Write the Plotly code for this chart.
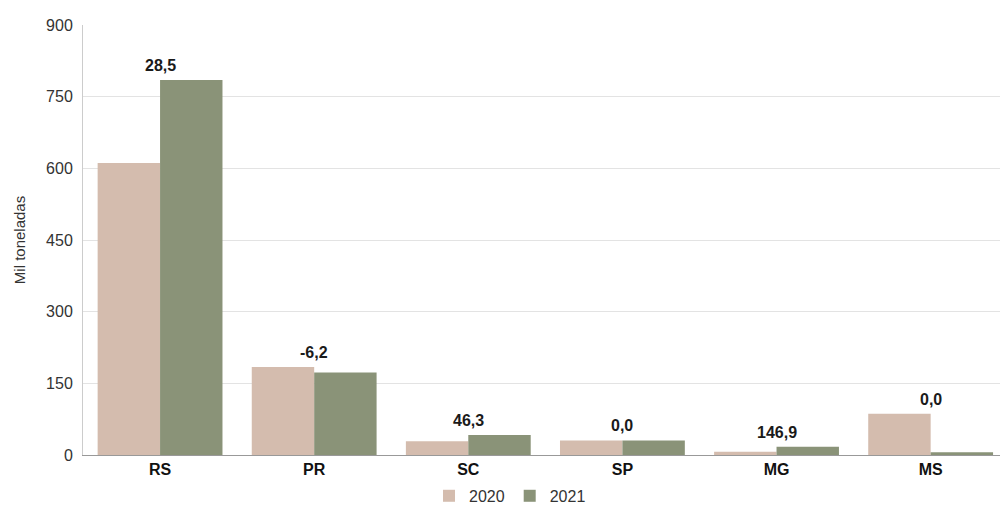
import plotly.graph_objects as go

categories = ["RS", "PR", "SC", "SP", "MG", "MS"]
values_2020 = [611, 184, 29, 30.5, 7, 86.5]
values_2021 = [785, 172.6, 42, 30.5, 17.3, 5.5]
change_labels = ["28,5", "-6,2", "46,3", "0,0", "146,9", "0,0"]
y_ticks = [0, 150, 300, 450, 600, 750, 900]

fig = go.Figure()
fig.add_trace(go.Bar(name="2020", x=categories, y=values_2020, marker_color="#d4bcae",
                     marker_line_width=0))
fig.add_trace(go.Bar(name="2021", x=categories, y=values_2021, marker_color="#8a9378",
                     marker_line_width=0))

for c, a, b, lab in zip(categories, values_2020, values_2021, change_labels):
    fig.add_annotation(x=c, y=max(a, b), text="<b>" + lab + "</b>", showarrow=False,
                       yanchor="bottom", yshift=4,
                       font=dict(family="Liberation Sans, Arial", size=16, color="#1a1a1a"))

fig.update_layout(
    width=1000, height=506,
    margin=dict(l=83, r=0, t=25, b=51),
    paper_bgcolor="white", plot_bgcolor="white",
    barmode="group", bargap=0.19, bargroupgap=0,
    font=dict(family="Liberation Sans, Arial", size=16, color="#333"),
    legend=dict(orientation="h", xref="container", yref="container",
                x=0.51, xanchor="center", y=0.02, yanchor="middle",
                font=dict(size=16, color="#333"), traceorder="normal",
                itemwidth=30, tracegroupgap=0),
    showlegend=True,
)
fig.update_xaxes(range=[-0.5, 5.45], showline=True, linecolor="#999", linewidth=1,
                 tickfont=dict(family="Liberation Sans, Arial", size=16, color="#111",
                               weight="bold"),
                 ticks="", showgrid=False)
fig.update_yaxes(range=[0, 900], tickvals=y_ticks, showgrid=True, gridcolor="#e3e3e3",
                 gridwidth=1, zeroline=False, showline=True, linecolor="#cccccc",
                 mirror=False, ticks="", ticklabelstandoff=6,
                 tickfont=dict(size=16, color="#333"),
                 title=dict(text="Mil toneladas", font=dict(size=15, color="#333"),
                            standoff=16))

fig.write_html("out.html", config={"displayModeBar": False},
               post_script="document.body.style.margin='0';document.body.style.overflow='hidden';")
